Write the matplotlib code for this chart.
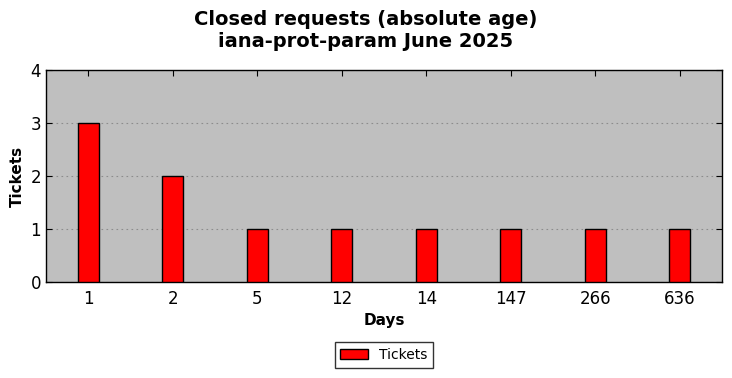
import matplotlib
matplotlib.use("Agg")
import matplotlib.pyplot as plt
import numpy as np

categories = ["1", "2", "5", "12", "14", "147", "266", "636"]
values = [3, 2, 1, 1, 1, 1, 1, 1]
title = "Closed requests (absolute age)\niana-prot-param June 2025"

fig = plt.figure(figsize=(7.32, 3.78), dpi=100)
ax = fig.add_axes([46/732, 1-282/378, (722-46)/732, (282-70)/378])
ax.set_facecolor("#bfbfbf")
x = np.arange(len(categories))
ax.bar(x, values, width=0.25, color="#ff0000", edgecolor="black", linewidth=1, label="Tickets", zorder=3)
ax.set_xlim(-0.5, len(categories) - 0.5)
ax.set_ylim(0, 4)
ax.set_yticks([0, 1, 2, 3, 4])
ax.set_xticks(x)
ax.set_xticklabels(categories)
ax.tick_params(direction="in", labelsize=12, length=4, top=True, right=True)
ax.tick_params(axis="x", pad=6)
ax.yaxis.grid(True, linestyle=(0, (1.5, 3)), color="#8c8c8c", linewidth=0.8, zorder=1)
for s in ax.spines.values():
    s.set_linewidth(1)
ax.set_xlabel("Days", fontsize=11, fontweight="bold", labelpad=3)
ax.set_ylabel("Tickets", fontsize=11, fontweight="bold", labelpad=4)
fig.suptitle(title, fontsize=14, fontweight="bold", y=0.974, linespacing=1.2)
fig.legend(loc="center", bbox_to_anchor=(384/732, 1-355/378), fontsize=10, frameon=True,
           fancybox=False, edgecolor="black", handlelength=2, borderpad=0.4)
fig.savefig("out.png", dpi=100)
